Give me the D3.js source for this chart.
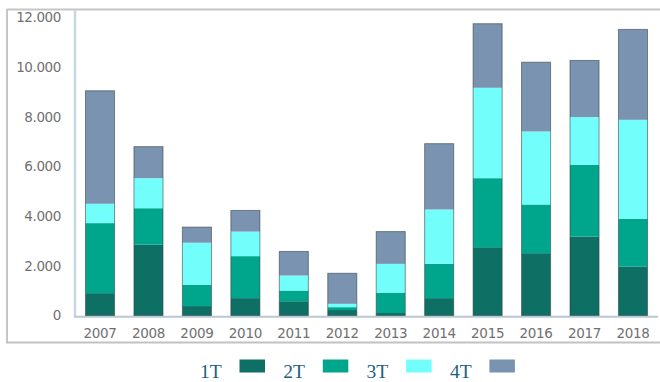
<!DOCTYPE html>
<html>
<head>
<meta charset="utf-8">
<script src="https://cdn.jsdelivr.net/npm/d3@7"></script>
<style>
  html, body { margin: 0; padding: 0; background: #fff; }
  svg { display: block; }
</style>
</head>
<body>
<svg id="chart" width="660" height="382"></svg>
<script>
// Years on the category axis
const years = ["2007","2008","2009","2010","2011","2012","2013","2014","2015","2016","2017","2018"];

// Quarterly values per year (stacked bottom to top: 1T, 2T, 3T, 4T)
const q1 = [900, 2850, 380, 700, 575, 220, 100, 700, 2750, 2510, 3180, 1975];
const q2 = [2820, 1470, 860, 1690, 430, 115, 820, 1380, 2780, 1960, 2890, 1920];
const q3 = [780, 1210, 1690, 990, 605, 135, 1160, 2190, 3640, 2940, 1920, 3985];
const q4 = [4550, 1270, 630, 850, 970, 1230, 1300, 2650, 2580, 2790, 2280, 3640];

const seriesNames = ["1T", "2T", "3T", "4T"];
const seriesColors = ["#0e6f64", "#00a68b", "#72fffc", "#7993b0"];

// Value axis ticks
const yTicks = [0, 2000, 4000, 6000, 8000, 10000, 12000];

const rows = years.map((yr, i) => ({ year: yr, "1T": q1[i], "2T": q2[i], "3T": q3[i], "4T": q4[i] }));
const stacked = d3.stack().keys(seriesNames)(rows);

const svg = d3.select("#chart");

// Frame lines around the plot area
svg.append("line").attr("x1", 7).attr("x2", 660).attr("y1", 9.5).attr("y2", 9.5)
  .attr("stroke", "#c6c6c6").attr("stroke-width", 2);
svg.append("line").attr("x1", 7).attr("x2", 7).attr("y1", 9).attr("y2", 343)
  .attr("stroke", "#c6c6c6").attr("stroke-width", 2);
svg.append("line").attr("x1", 6).attr("x2", 660).attr("y1", 342.5).attr("y2", 342.5)
  .attr("stroke", "#c2c2c2").attr("stroke-width", 2);

const x = d3.scaleBand().domain(years).range([75.8, 657.2])
  .paddingInner(0.4).paddingOuter(0.2);
const y = d3.scaleLinear().domain([0, 12000]).range([315.5, 17.5]);

const fmt = d3.formatLocale({ decimal: ",", thousands: ".", grouping: [3], currency: ["", ""] }).format(",d");

// Axis lines
svg.append("line").attr("x1", 75).attr("x2", 75).attr("y1", 10).attr("y2", 317)
  .attr("stroke", "#c9d6e2").attr("stroke-width", 2.5);
svg.append("line").attr("x1", 74).attr("x2", 658).attr("y1", 316.8).attr("y2", 316.8)
  .attr("stroke", "#b9c7d6").attr("stroke-width", 2);

// Y axis labels
const yAxis = svg.append("g").attr("transform", "translate(75,0)")
  .call(d3.axisLeft(y).tickValues(yTicks).tickFormat(fmt).tickSize(0).tickPadding(14));
yAxis.select(".domain").remove();
yAxis.selectAll("text")
  .attr("font-family", "DejaVu Sans, sans-serif").attr("font-size", 13.5)
  .attr("fill", "#707070").attr("letter-spacing", "-0.4");

// X axis labels
const xAxis = svg.append("g").attr("transform", "translate(0,316)")
  .call(d3.axisBottom(x).tickSize(0).tickPadding(12));
xAxis.select(".domain").remove();
xAxis.selectAll("text")
  .attr("font-family", "DejaVu Sans, sans-serif").attr("font-size", 13.5)
  .attr("fill", "#707070").attr("letter-spacing", "-0.3");

// Stacked bars
const layers = svg.append("g").selectAll("g").data(stacked).join("g")
  .attr("fill", (d, i) => seriesColors[i]);
layers.selectAll("rect").data(d => d).join("rect")
  .attr("x", d => x(d.data.year))
  .attr("width", x.bandwidth())
  .attr("y", d => y(d[1]))
  .attr("height", d => y(d[0]) - y(d[1]));

// Thin dark outline around each full stack
const topLayer = stacked[stacked.length - 1];
svg.append("g").selectAll("rect").data(topLayer).join("rect")
  .attr("x", d => x(d.data.year))
  .attr("width", x.bandwidth())
  .attr("y", d => y(d[1]))
  .attr("height", d => y(0) - y(d[1]))
  .attr("fill", "none")
  .attr("stroke", "#2c3a40").attr("stroke-opacity", 0.55).attr("stroke-width", 1);

// Legend
const legend = svg.append("g").selectAll("g").data(seriesNames).join("g")
  .attr("transform", (d, i) => `translate(${200 + i * 83.3},0)`);
legend.append("text")
  .attr("x", 0).attr("y", 377.5)
  .attr("font-family", "Liberation Serif, serif").attr("font-size", 19.5)
  .attr("fill", "#1c5f80")
  .text(d => d);
legend.append("rect")
  .attr("x", 39.5).attr("y", 359.5).attr("width", 25.5).attr("height", 13)
  .attr("fill", (d, i) => seriesColors[i]);
</script>
</body>
</html>
